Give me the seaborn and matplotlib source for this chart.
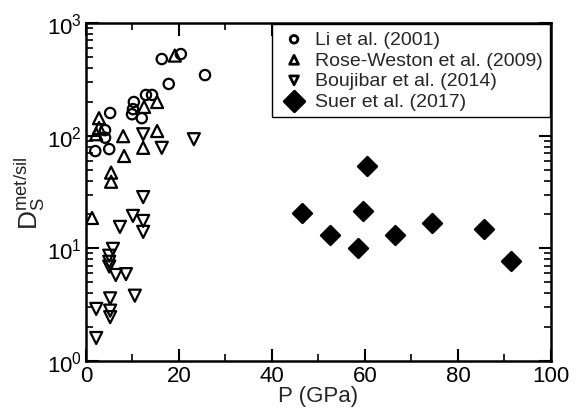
import numpy as np
import pandas as pd
import matplotlib
matplotlib.use("Agg")
import matplotlib.pyplot as plt
import matplotlib.ticker as mticker
import seaborn as sns

# values
li_p = [16.3, 20.4, 17.8, 25.6, 10.3, 10.1, 12.9, 14.2, 9.9, 12.0, 5.2, 4.1, 4.1, 2.0, 5.0]
li_d = [479, 530, 288, 345, 199, 172, 230, 230, 155, 143, 159, 112, 96, 73, 76]

rw_p = [19.1, 12.5, 15.3, 2.8, 2.8, 2.2, 8.0, 8.2, 12.3, 15.3, 5.4, 5.4, 1.3]
rw_d = [514, 180, 199, 143, 117, 103, 99, 66, 78, 110, 47, 39, 18.6]

bj_p = [12.3, 16.3, 23.2, 12.3, 10.1, 12.3, 12.3, 7.3, 5.8, 5.0, 5.0, 5.0,
        6.4, 8.6, 10.5, 5.2, 2.2, 5.2, 5.2, 2.2]
bj_d = [103, 78, 93, 28.5, 19.4, 17.5, 14.0, 15.5, 9.9, 8.6, 7.6, 6.9,
        5.8, 5.9, 3.8, 3.6, 2.9, 2.8, 2.45, 1.6]

su_p = [46.5, 52.5, 58.5, 59.5, 60.5, 66.5, 74.5, 85.5, 91.5]
su_d = [20.6, 13.1, 10.1, 21.4, 53.7, 13.1, 16.7, 14.8, 7.7]

labels = ["Li et al. (2001)", "Rose-Weston et al. (2009)",
          "Boujibar et al. (2014)", "Suer et al. (2017)"]

df = pd.concat([
    pd.DataFrame({"P": li_p, "D": li_d, "study": labels[0]}),
    pd.DataFrame({"P": rw_p, "D": rw_d, "study": labels[1]}),
    pd.DataFrame({"P": bj_p, "D": bj_d, "study": labels[2]}),
    pd.DataFrame({"P": su_p, "D": su_d, "study": labels[3]}),
])

sns.set_style("ticks")
plt.rcParams["font.family"] = ["Liberation Sans", "DejaVu Sans"]
plt.rcParams["mathtext.fontset"] = "custom"
plt.rcParams["mathtext.rm"] = "Liberation Sans"
plt.rcParams["mathtext.it"] = "Liberation Sans"

fig = plt.figure(figsize=(5.79, 4.14), dpi=100)
ax = fig.add_axes([0.1485, 0.1256, 0.8031, 0.8164])

styles = {
    labels[0]: dict(marker="o", s=55, facecolor="none"),
    labels[1]: dict(marker="^", s=75, facecolor="none"),
    labels[2]: dict(marker="v", s=75, facecolor="none"),
    labels[3]: dict(marker="D", s=95, facecolor="black"),
}
for lab in labels:
    sub = df[df.study == lab]
    sns.scatterplot(data=sub, x="P", y="D", ax=ax, edgecolor="black",
                    linewidth=1.6, label=lab, **styles[lab])

ax.set_yscale("log")
ax.set_xlim(0, 100)
ax.set_ylim(1, 1000)
ax.xaxis.set_major_locator(mticker.MultipleLocator(20))
ax.xaxis.set_minor_locator(mticker.MultipleLocator(10))
ax.yaxis.set_major_locator(mticker.LogLocator(base=10))
ax.yaxis.set_minor_locator(mticker.LogLocator(base=10, subs=np.arange(2, 10)))
ax.yaxis.set_minor_formatter(mticker.NullFormatter())

ax.tick_params(which="both", direction="in", top=True, right=True,
               labelsize=16, colors="black")
ax.tick_params(which="major", length=9, width=1.5, pad=3)
ax.tick_params(which="minor", length=5, width=1.2)
for sp in ax.spines.values():
    sp.set_linewidth(1.8)
    sp.set_color("black")

ax.set_xlabel("P (GPa)", fontsize=16, labelpad=-1)
ax.set_ylabel(r"$\mathregular{D_S^{met/sil}}$", fontsize=19, labelpad=0)

leg = ax.legend(loc="upper right", fontsize=14, frameon=True, fancybox=False,
                framealpha=1, edgecolor="black", borderpad=0.35,
                labelspacing=0.15, handletextpad=0.3, handlelength=1.6,
                borderaxespad=0.05)
leg.get_frame().set_linewidth(1.0)
for h, sz in zip(leg.legend_handles, [30, 40, 40, 110]):
    h.set_sizes([sz])
    h.set_linewidth(2.0)

fig.savefig("out.png", dpi=100)
